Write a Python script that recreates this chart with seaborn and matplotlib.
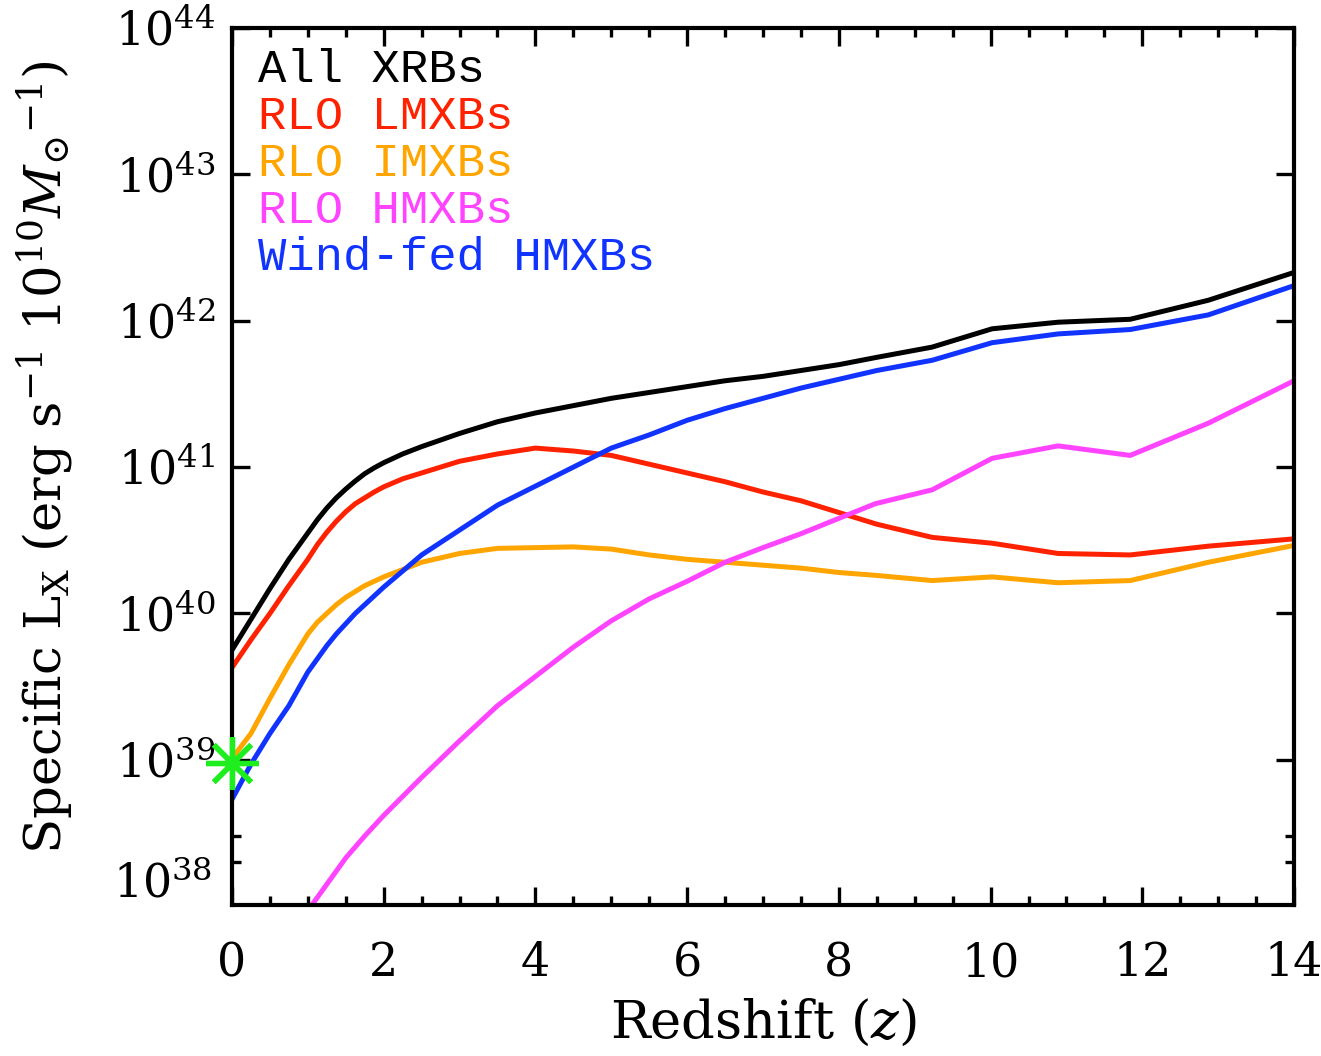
import numpy as np
import pandas as pd
import matplotlib
matplotlib.use("Agg")
import matplotlib.pyplot as plt
import matplotlib.ticker as mticker
import seaborn as sns

# ---------------- data (log10 of specific L_X) ----------------
z_grid = [0.0, 0.25, 0.5, 0.75, 1.0, 1.125, 1.25, 1.375, 1.5, 1.625, 1.75, 1.875, 2.0,
          2.25, 2.5, 3.0, 3.5, 4.0, 4.5, 5.0, 5.5, 6.0, 6.5, 7.0, 7.5, 8.0, 8.5,
          9.23, 10.02, 10.89, 11.84, 12.87, 14.0]

log_all = [39.75, 39.96, 40.17, 40.37, 40.55, 40.64, 40.72, 40.79, 40.85, 40.905,
           40.955, 40.995, 41.03, 41.09, 41.14, 41.23, 41.31, 41.37, 41.42, 41.47,
           41.51, 41.55, 41.59, 41.62, 41.66, 41.70, 41.75,
           41.82, 41.945, 41.99, 42.01, 42.14, 42.33]
log_lmxb = [39.63, 39.82, 40.00, 40.19, 40.37, 40.47, 40.555, 40.63, 40.695, 40.75,
            40.79, 40.83, 40.865, 40.92, 40.96, 41.04, 41.09, 41.13, 41.11, 41.08,
            41.02, 40.96, 40.90, 40.83, 40.77, 40.69, 40.61,
            40.52, 40.48, 40.41, 40.40, 40.46, 40.51]
log_imxb = [39.01, 39.18, 39.42, 39.65, 39.86, 39.94, 40.00, 40.06, 40.11, 40.15,
            40.19, 40.22, 40.25, 40.30, 40.35, 40.41, 40.445, 40.45, 40.455, 40.44,
            40.40, 40.37, 40.35, 40.33, 40.31, 40.28, 40.26,
            40.225, 40.25, 40.21, 40.225, 40.35, 40.465]
log_wind = [38.73, 38.97, 39.18, 39.37, 39.60, 39.69, 39.78, 39.86, 39.93, 40.00,
            40.06, 40.12, 40.18, 40.29, 40.40, 40.57, 40.74, 40.87, 41.00, 41.13,
            41.22, 41.32, 41.40, 41.47, 41.54, 41.60, 41.66,
            41.73, 41.85, 41.91, 41.94, 42.04, 42.24]

z_hmxb = [1.0, 1.25, 1.5, 1.75, 2.0, 2.5, 3.0, 3.5, 4.0, 4.5, 5.0, 5.5, 6.0, 6.5, 7.0,
          7.5, 8.0, 8.48, 9.23, 10.02, 10.89, 11.84, 12.87, 14.0]
log_hmxb = [37.97, 38.15, 38.33, 38.48, 38.62, 38.88, 39.13, 39.37, 39.57, 39.77, 39.95,
            40.10, 40.22, 40.35, 40.45, 40.545, 40.65, 40.75, 40.845, 41.06, 41.145,
            41.08, 41.30, 41.59]

obs_z = [0.0]
obs_L = [9.5e38]

series_names = ["All XRBs", "RLO LMXBs", "RLO IMXBs", "RLO HMXBs", "Wind-fed HMXBs"]
series_colors = ["#000000", "#FF2200", "#FFA500", "#FF44FF", "#1133FF"]

y_ticks = [1e39, 1e40, 1e41, 1e42, 1e43, 1e44]
y_minor = [2e38, 3e38]
x_ticks = [0, 2, 4, 6, 8, 10, 12, 14]

# ---------------- build long-form table ----------------
frames = []
for name, zz, ll in [("All XRBs", z_grid, log_all),
                     ("RLO LMXBs", z_grid, log_lmxb),
                     ("RLO IMXBs", z_grid, log_imxb),
                     ("RLO HMXBs", z_hmxb, log_hmxb),
                     ("Wind-fed HMXBs", z_grid, log_wind)]:
    frames.append(pd.DataFrame({"z": zz, "L": np.power(10.0, ll), "series": name}))
df = pd.concat(frames, ignore_index=True)

# ---------------- style ----------------
sns.set_theme(style="ticks")
plt.rcParams["font.family"] = ["DejaVu Serif"]
plt.rcParams["mathtext.fontset"] = "dejavuserif"
plt.rcParams["text.color"] = "black"
plt.rcParams["axes.labelcolor"] = "black"

fig = plt.figure(figsize=(13.21, 10.56), dpi=100)
ax = fig.add_axes([0.1756, 0.143, 0.804, 0.8305])

palette = dict(zip(series_names, series_colors))
sns.lineplot(data=df, x="z", y="L", hue="series", hue_order=series_names,
             palette=palette, linewidth=3.6, legend=False, ax=ax, sort=True)

ax.plot(obs_z, obs_L, linestyle="none", marker=(8, 2, 0), markersize=38,
        markeredgewidth=3.8, color="#1EEE1E", clip_on=False, zorder=10)

ax.set_yscale("log")
ax.set_xlim(0, 14)
ax.set_ylim(1.02e38, 1e44)
ax.set_yticks(y_ticks)
ax.yaxis.set_minor_locator(mticker.FixedLocator(y_minor))
ax.yaxis.set_minor_formatter(mticker.NullFormatter())
ax.set_xticks(x_ticks)
ax.xaxis.set_minor_locator(mticker.MultipleLocator(0.5))

# label for the bottom decade, drawn slightly above the axis edge as in the original
ax.text(-0.0188, 0.023, r"$\mathdefault{10^{38}}$", transform=ax.transAxes,
        ha="right", va="center", fontsize=33, color="black")

for sp in ax.spines.values():
    sp.set_linewidth(3)
    sp.set_color("black")

ax.tick_params(which="major", direction="in", length=13, width=2.4,
               top=True, right=True, labelsize=33, colors="black")
ax.tick_params(which="minor", direction="in", length=6.5, width=2.4,
               top=True, right=True, colors="black")
ax.tick_params(axis="x", which="major", pad=26)
ax.tick_params(axis="y", which="major", pad=12)

ax.set_xlabel(r"Redshift ($z$)", fontsize=38, labelpad=8, color="black")
ax.set_ylabel(r"Specific L$_{\rm X}$ (erg s$^{-1}$ 10$^{10}$$M_{\odot}$$^{-1}$)",
              fontsize=37, color="black")
ax.yaxis.set_label_coords(-0.148, 0.51)

# legend text, coloured like the lines
y0 = 0.952
dy = 0.0535
for i, (name, col) in enumerate(zip(series_names, series_colors)):
    ax.text(0.0245, y0 - i * dy, name, color=col, transform=ax.transAxes,
            fontsize=34, family=["Liberation Mono", "DejaVu Sans Mono"],
            ha="left", va="center")

fig.savefig("out.png", dpi=100)
